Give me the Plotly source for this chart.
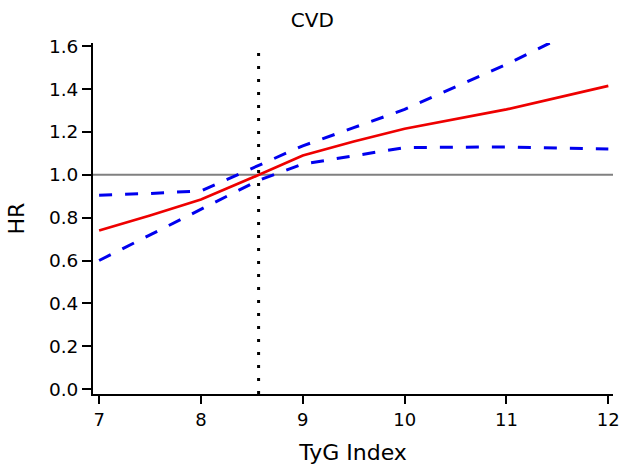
import plotly.graph_objects as go

# Data
tyg = [7.0, 7.5, 8.0, 8.5, 8.57, 9.0, 9.5, 10.0, 11.0, 12.0]
hr = [0.74, 0.81, 0.885, 0.985, 1.0, 1.09, 1.155, 1.215, 1.305, 1.415]
hr_upper = [0.905, 0.913, 0.925, 1.03, 1.045, 1.135, 1.22, 1.305, 1.515, 1.75]
hr_lower = [0.60, 0.72, 0.84, 0.96, 0.975, 1.05, 1.09, 1.127, 1.13, 1.12]

ref_hr = 1.0
ref_tyg = 8.566

x_ticks = [7, 8, 9, 10, 11, 12]
y_ticks = [0.0, 0.2, 0.4, 0.6, 0.8, 1.0, 1.2, 1.4, 1.6]
y_tick_labels = ["0.0", "0.2", "0.4", "0.6", "0.8", "1.0", "1.2", "1.4", "1.6"]

FONT = "DejaVu Sans"
W, H = 620, 465

fig = go.Figure()
fig.add_trace(go.Scatter(x=tyg, y=hr_lower, mode="lines",
                         line=dict(color="#0000ee", width=3, dash="13px,13px"),
                         showlegend=False))
fig.add_trace(go.Scatter(x=tyg, y=hr_upper, mode="lines",
                         line=dict(color="#0000ee", width=3, dash="13px,13px"),
                         showlegend=False))
fig.add_trace(go.Scatter(x=tyg, y=hr, mode="lines",
                         line=dict(color="#ee0000", width=2.7),
                         showlegend=False))

fig.add_shape(type="line", xref="paper", x0=0, x1=1, yref="y", y0=ref_hr, y1=ref_hr,
              line=dict(color="#808080", width=2), layer="below")
fig.add_shape(type="line", xref="x", x0=ref_tyg, x1=ref_tyg, yref="paper", y0=0, y1=1,
              line=dict(color="black", width=3, dash="3px,10px"), layer="above")

fig.update_layout(
    width=W, height=H,
    margin=dict(l=93, r=7, t=43, b=71, autoexpand=False),
    paper_bgcolor="white", plot_bgcolor="white",
    hovermode=False,
    font=dict(family=FONT, size=18, color="black"),
    title=dict(text="CVD", x=312.3 / W, xref="container", xanchor="center",
               y=1 - 19.5 / H, yref="container", yanchor="middle", font=dict(size=20)),
    xaxis=dict(range=[6.94, 12.046], tickvals=x_ticks, showgrid=False, zeroline=False,
               automargin=False, tickfont=dict(size=18), ticklabeloverflow="allow",
               showline=True, linecolor="black", linewidth=2,
               ticks="outside", ticklen=8, tickwidth=2, tickcolor="black",
               title=dict(text="TyG Index", standoff=17)),
    yaxis=dict(range=[-0.023, 1.615], tickvals=y_ticks, ticktext=y_tick_labels,
               showgrid=False, zeroline=False, automargin=False, tickfont=dict(size=18.5),
               ticklabeloverflow="allow",
               showline=True, linecolor="black", linewidth=2,
               ticks="outside", ticklen=9, tickwidth=2, tickcolor="black",
               title=dict(text="HR", standoff=18)),
)

fig.write_html("out.html", config={"displayModeBar": False},
               post_script="document.body.style.margin='0';document.body.style.overflow='hidden';")
